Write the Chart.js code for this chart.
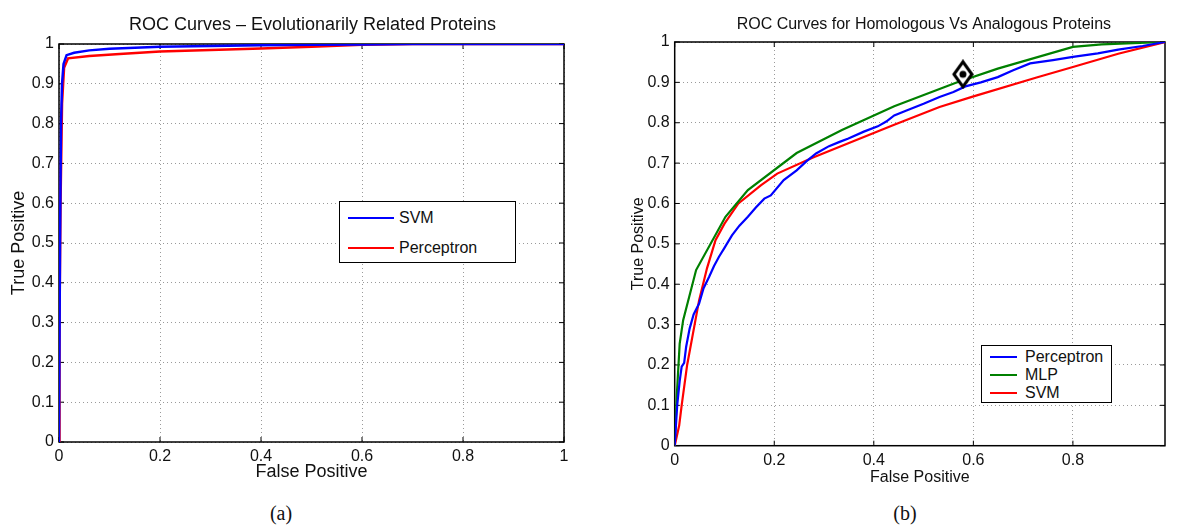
<!DOCTYPE html>
<html>
<head>
<meta charset="utf-8">
<script src="https://cdn.jsdelivr.net/npm/chart.js@4.4.1/dist/chart.umd.min.js"></script>
<style>
  body { margin: 0; background: #fff; width: 1178px; height: 527px; position: relative; overflow: hidden;
         font-family: "Liberation Sans", Arial, sans-serif; color: #111; }
  canvas { position: absolute; top: 0; }
  #chartA { left: 0; }
  #chartB { left: 600px; }
  .legend { position: absolute; background: #fff; border: 1.5px solid #000; box-sizing: border-box; }
  .legend .swatch { position: absolute; height: 2px; margin-top: -1px; }
  .legend .label { position: absolute; font-size: 16px; line-height: 18px; margin-top: -9px; white-space: nowrap; }
  .caption { position: absolute; font-family: "Liberation Serif", "Times New Roman", serif; font-size: 20px;
             transform: translate(-50%, -50%); }
</style>
</head>
<body>
<canvas id="chartA" width="590" height="495"></canvas>
<canvas id="chartB" width="578" height="495"></canvas>
<div class="caption" style="left:281px;top:513px">(a)</div>
<div class="caption" style="left:905px;top:513px">(b)</div>

<script>
// ---- (a) Evolutionarily related proteins ----
const fprA_svm = [0, 0.002, 0.004, 0.006, 0.009, 0.015, 0.03, 0.06, 0.1, 0.2, 0.3, 0.4, 0.5, 0.6, 0.7, 1];
const tprA_svm = [0, 0.5, 0.8, 0.9, 0.95, 0.972, 0.978, 0.984, 0.988, 0.993, 0.995, 0.997, 0.998, 0.999, 1, 1];
const fprA_perc = [0, 0.001, 0.003, 0.006, 0.01, 0.018, 0.06, 0.12, 0.2, 0.4, 0.5, 0.6, 0.7, 1];
const tprA_perc = [0, 0.3, 0.6, 0.85, 0.94, 0.964, 0.97, 0.975, 0.981, 0.989, 0.993, 0.998, 1, 1];

// ---- (b) Homologous vs analogous proteins ----
const fprB_perc = [0, 0.003, 0.005, 0.010, 0.014, 0.019, 0.023, 0.030, 0.038, 0.049, 0.058, 0.069, 0.079, 0.089,
  0.100, 0.115, 0.130, 0.147, 0.163, 0.180, 0.193, 0.219, 0.245, 0.265, 0.284, 0.310, 0.330, 0.349, 0.380,
  0.408, 0.425, 0.441, 0.467, 0.500, 0.532, 0.560, 0.584, 0.615, 0.649, 0.680, 0.714, 0.760, 0.8, 0.85,
  0.891, 0.94, 0.985];
const tprB_perc = [0, 0.06, 0.10, 0.16, 0.196, 0.205, 0.245, 0.29, 0.325, 0.352, 0.39, 0.418, 0.445, 0.468,
  0.49, 0.521, 0.545, 0.567, 0.59, 0.612, 0.62, 0.658, 0.682, 0.705, 0.724, 0.742, 0.752, 0.761, 0.778,
  0.791, 0.803, 0.818, 0.831, 0.847, 0.864, 0.876, 0.890, 0.900, 0.913, 0.93, 0.947, 0.955, 0.963, 0.972,
  0.981, 0.99, 1.0];
const fprB_mlp = [0, 0.004, 0.010, 0.017, 0.043, 0.102, 0.147, 0.245, 0.336, 0.441, 0.565, 0.649, 0.8, 0.858, 0.985];
const tprB_mlp = [0, 0.12, 0.253, 0.311, 0.435, 0.567, 0.633, 0.725, 0.782, 0.841, 0.899, 0.934, 0.988, 0.994, 1.0];
const fprB_svm = [0, 0.009, 0.014, 0.025, 0.040, 0.049, 0.065, 0.082, 0.10, 0.128, 0.173, 0.206, 0.278, 0.36,
  0.441, 0.532, 0.597, 0.727, 0.8, 0.891, 0.985];
const tprB_svm = [0, 0.05, 0.1, 0.2, 0.3, 0.36, 0.44, 0.509, 0.55, 0.6, 0.645, 0.674, 0.714, 0.755, 0.795,
  0.839, 0.864, 0.912, 0.938, 0.971, 1.0];
const operatingPointX = [0.579];
const operatingPointY = [0.920];

// ticks
const ticksXA = [0, 0.2, 0.4, 0.6, 0.8, 1];
const ticksXB = [0, 0.2, 0.4, 0.6, 0.8];
const ticksY = [0, 0.1, 0.2, 0.3, 0.4, 0.5, 0.6, 0.7, 0.8, 0.9, 1];

const BLUE = '#0000ff', RED = '#ff0000', GREEN = '#008000';

function points(xs, ys) {
  return xs.map((x, i) => ({ x, y: ys[i] }));
}

function lineSet(label, xs, ys, color, width) {
  return {
    label, data: points(xs, ys), showLine: true, borderColor: color, backgroundColor: color,
    borderWidth: width, pointRadius: 0, pointHoverRadius: 0, tension: 0
  };
}

// MATLAB-like box around the plot, inner tick marks and the title
const framePlugin = {
  id: 'frame',
  beforeDatasetsDraw(chart, args, opts) {
    const { ctx, chartArea: a, scales: { x, y } } = chart;
    ctx.save();
    ctx.strokeStyle = '#000';
    ctx.lineWidth = 1.5;
    ctx.strokeRect(a.left, a.top, a.right - a.left, a.bottom - a.top);
    ctx.beginPath();
    x.ticks.forEach(t => {
      const px = x.getPixelForValue(t.value);
      ctx.moveTo(px, a.bottom); ctx.lineTo(px, a.bottom - 5);
      ctx.moveTo(px, a.top); ctx.lineTo(px, a.top + 5);
    });
    y.ticks.forEach(t => {
      const py = y.getPixelForValue(t.value);
      ctx.moveTo(a.left, py); ctx.lineTo(a.left + 5, py);
      ctx.moveTo(a.right, py); ctx.lineTo(a.right - 5, py);
    });
    ctx.lineWidth = 1;
    ctx.stroke();
    ctx.fillStyle = '#111';
    ctx.font = opts.font;
    ctx.textAlign = 'center';
    ctx.textBaseline = 'middle';
    ctx.fillText(opts.title, (a.left + a.right) / 2 + (opts.titleShift || 0), opts.titleY);
    ctx.restore();
  }
};

function axis(cfg) {
  return {
    type: 'linear', min: cfg.min, max: cfg.max, position: cfg.position,
    afterBuildTicks: s => { s.ticks = cfg.ticks.map(v => ({ value: v })); },
    afterFit: s => { if (cfg.width) s.width = cfg.width; if (cfg.height) s.height = cfg.height; },
    grid: { color: '#9a9a9a', lineWidth: 1, drawTicks: false },
    border: { display: false, dash: [1, 3] },
    ticks: {
      color: '#111', padding: cfg.tickPad, autoSkip: false, maxRotation: 0,
      font: { family: '"Liberation Sans", Arial, sans-serif', size: 16 },
      callback: v => String(+v.toFixed(2))
    },
    title: {
      display: true, text: cfg.title, color: '#111',
      font: { family: '"Liberation Sans", Arial, sans-serif', size: cfg.titleSize },
      padding: cfg.titlePad
    }
  };
}

function makeChart(id, datasets, o) {
  return new Chart(document.getElementById(id), {
    type: 'scatter',
    data: { datasets },
    plugins: [framePlugin],
    options: {
      responsive: false, animation: false, devicePixelRatio: 1,
      layout: { padding: { top: o.top, right: o.right, left: 0, bottom: 0 } },
      plugins: {
        legend: { display: false }, tooltip: { enabled: false },
        frame: { title: o.title, titleY: o.titleY, font: o.titleFont, titleShift: o.titleShift }
      },
      scales: {
        x: axis({ min: 0, max: o.xMax, ticks: o.xTicks, position: 'bottom', height: o.xHeight,
                  tickPad: 5, title: 'False Positive', titleSize: o.axisTitleSize,
                  titlePad: { top: 0, bottom: o.xTitlePad } }),
        y: axis({ min: 0, max: 1, ticks: ticksY, position: 'left', width: o.yWidth,
                  tickPad: 5, title: 'True Positive', titleSize: o.axisTitleSize,
                  titlePad: { top: o.yTitlePad, bottom: 0 } })
      }
    }
  });
}

const chartA = makeChart('chartA', [
  lineSet('SVM', fprA_svm, tprA_svm, BLUE, 2.5),
  lineSet('Perceptron', fprA_perc, tprA_perc, RED, 2.5)
], {
  top: 44, right: 26, xMax: 1, xTicks: ticksXA, xHeight: 53, yWidth: 59,
  axisTitleSize: 18, xTitlePad: 12, yTitlePad: 8,
  title: 'ROC Curves \u2013 Evolutionarily Related Proteins', titleY: 25,
  titleFont: '18px "Liberation Sans", Arial, sans-serif', titleShift: 1
});

// diamond-with-dot marker for the chosen operating point
const marker = document.createElement('canvas');
marker.width = 24; marker.height = 30;
(function drawMarker(c) {
  const g = c.getContext('2d');
  g.beginPath();
  g.moveTo(12, 2.5); g.lineTo(21, 15); g.lineTo(12, 27.5); g.lineTo(3, 15); g.closePath();
  g.fillStyle = '#fff'; g.fill();
  g.lineWidth = 3; g.strokeStyle = '#000'; g.stroke();
  g.beginPath(); g.arc(12, 15, 3.5, 0, Math.PI * 2); g.fillStyle = '#000'; g.fill();
})(marker);

const chartB = makeChart('chartB', [
  {
    label: 'Operating point', data: points(operatingPointX, operatingPointY), showLine: false,
    pointStyle: marker, pointRadius: 12, pointHoverRadius: 12, order: -1
  },
  lineSet('Perceptron', fprB_perc, tprB_perc, BLUE, 2.2),
  lineSet('MLP', fprB_mlp, tprB_mlp, GREEN, 2.2),
  lineSet('SVM', fprB_svm, tprB_svm, RED, 2.2)
], {
  top: 42, right: 1, xMax: 0.985, xTicks: ticksXB, xHeight: 49.3, yWidth: 74.7,
  axisTitleSize: 16, xTitlePad: 8, yTitlePad: 29,
  title: 'ROC Curves for Homologous Vs Analogous Proteins', titleY: 25,
  titleFont: '16px "Liberation Sans", Arial, sans-serif', titleShift: 4
});

// legends drawn as HTML boxes inside the plots
function makeLegend(chart, box, rows) {
  const div = document.createElement('div');
  div.className = 'legend';
  Object.assign(div.style, { left: box.left + 'px', top: box.top + 'px', width: box.width + 'px', height: box.height + 'px' });
  const sets = chart.data.datasets.filter(d => d.showLine);
  sets.forEach((d, i) => {
    const sw = document.createElement('div');
    sw.className = 'swatch';
    Object.assign(sw.style, { left: rows.lineX + 'px', width: rows.lineW + 'px', top: rows.y[i] + 'px', background: d.borderColor });
    const lb = document.createElement('div');
    lb.className = 'label';
    lb.textContent = d.label;
    Object.assign(lb.style, { left: rows.textX + 'px', top: rows.y[i] + 'px' });
    div.appendChild(sw);
    div.appendChild(lb);
  });
  document.body.appendChild(div);
}

makeLegend(chartA, { left: 339, top: 201, width: 177, height: 62 },
  { lineX: 8, lineW: 46, textX: 59, y: [16, 46] });
makeLegend(chartB, { left: 981, top: 345, width: 131, height: 58 },
  { lineX: 8, lineW: 27, textX: 43, y: [11, 29, 47] });
</script>
</body>
</html>
